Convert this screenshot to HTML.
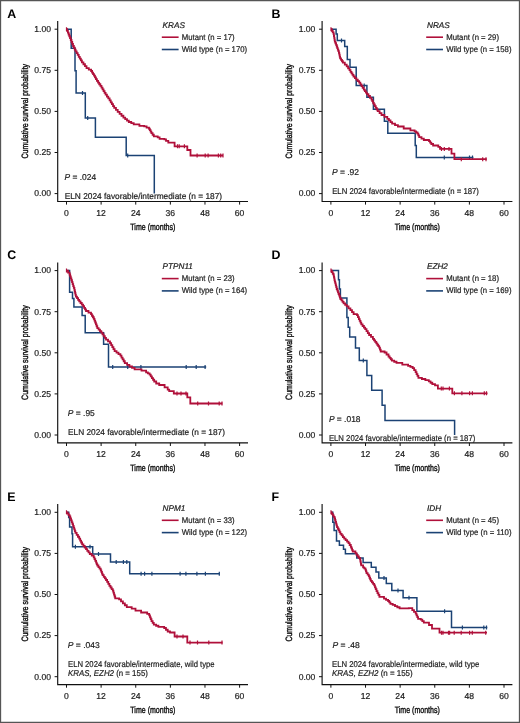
<!DOCTYPE html>
<html><head><meta charset="utf-8"><style>
html,body{margin:0;padding:0;background:#fff;}
svg{display:block;will-change:transform;}
text{font-family:"Liberation Sans",sans-serif;fill:#222;text-rendering:geometricPrecision;}
.lt{font-size:12.4px;font-weight:bold;fill:#000;}
.tk{font-size:8.6px;fill:#222;stroke:#222;stroke-width:0.2px;}
.ttl{font-size:9.2px;fill:#111;stroke:#111;stroke-width:0.4px;}
.lg{font-size:8.2px;fill:#222;stroke:#222;stroke-width:0.2px;}
.an{font-size:8.5px;fill:#222;stroke:#222;stroke-width:0.2px;}
</style></head><body>
<svg width="520" height="723" viewBox="0 0 520 723">
<rect x="0" y="0" width="520" height="723" fill="#fff"/>
<g transform="translate(0,0)">
<text x="7.2" y="17.8" class="lt">A</text>
<path d="M57.7 21V201.5H248" fill="none" stroke="#111" stroke-width="1.15"/>
<path d="M54.6 193.6H57.7 M54.6 152.5H57.7 M54.6 111.4H57.7 M54.6 70.3H57.7 M54.6 29.2H57.7 M66.5 201.5V204.6 M101.12 201.5V204.6 M135.74 201.5V204.6 M170.36 201.5V204.6 M204.98 201.5V204.6 M239.6 201.5V204.6" stroke="#111" stroke-width="1"/>
<text x="51" y="196.45" class="tk" text-anchor="end">0.00</text>
<text x="51" y="155.35" class="tk" text-anchor="end">0.25</text>
<text x="51" y="114.25" class="tk" text-anchor="end">0.50</text>
<text x="51" y="73.15" class="tk" text-anchor="end">0.75</text>
<text x="51" y="32.05" class="tk" text-anchor="end">1.00</text>
<text x="66.5" y="215.6" class="tk" text-anchor="middle">0</text>
<text x="101.12" y="215.6" class="tk" text-anchor="middle">12</text>
<text x="135.74" y="215.6" class="tk" text-anchor="middle">24</text>
<text x="170.36" y="215.6" class="tk" text-anchor="middle">36</text>
<text x="204.98" y="215.6" class="tk" text-anchor="middle">48</text>
<text x="239.6" y="215.6" class="tk" text-anchor="middle">60</text>
<text x="152.85" y="229.7" class="ttl" text-anchor="middle" textLength="45" lengthAdjust="spacingAndGlyphs">Time (months)</text>
<text transform="translate(28,111.2) rotate(-90)" x="0" y="0" class="ttl" text-anchor="middle" textLength="94.6" lengthAdjust="spacingAndGlyphs">Cumulative survival probability</text>
<text x="162.6" y="27.6" class="lg" font-style="italic">KRAS</text>
<path d="M161.8 37.2H178.6" stroke="#b0103a" stroke-width="1.6"/>
<path d="M161.8 49.5H178.6" stroke="#1b4274" stroke-width="1.6"/>
<text x="181.8" y="39.5" class="lg" textLength="52.8" lengthAdjust="spacingAndGlyphs">Mutant (n = 17)</text>
<text x="181.8" y="51.7" class="lg" textLength="65.3" lengthAdjust="spacingAndGlyphs">Wild type (n = 170)</text>
</g>
<text x="64.5" y="179.8" class="an" textLength="31.6" lengthAdjust="spacingAndGlyphs"><tspan font-style="italic">P</tspan> = .024</text>
<text x="64.7" y="199.2" class="an" textLength="157.4" lengthAdjust="spacingAndGlyphs">ELN 2024 favorable/intermediate (n = 187)</text>
<g transform="translate(264.4,0)">
<text x="7.2" y="17.8" class="lt">B</text>
<path d="M57.7 21V201.5H248" fill="none" stroke="#111" stroke-width="1.15"/>
<path d="M54.6 193.6H57.7 M54.6 152.5H57.7 M54.6 111.4H57.7 M54.6 70.3H57.7 M54.6 29.2H57.7 M66.5 201.5V204.6 M101.12 201.5V204.6 M135.74 201.5V204.6 M170.36 201.5V204.6 M204.98 201.5V204.6 M239.6 201.5V204.6" stroke="#111" stroke-width="1"/>
<text x="51" y="196.45" class="tk" text-anchor="end">0.00</text>
<text x="51" y="155.35" class="tk" text-anchor="end">0.25</text>
<text x="51" y="114.25" class="tk" text-anchor="end">0.50</text>
<text x="51" y="73.15" class="tk" text-anchor="end">0.75</text>
<text x="51" y="32.05" class="tk" text-anchor="end">1.00</text>
<text x="66.5" y="215.6" class="tk" text-anchor="middle">0</text>
<text x="101.12" y="215.6" class="tk" text-anchor="middle">12</text>
<text x="135.74" y="215.6" class="tk" text-anchor="middle">24</text>
<text x="170.36" y="215.6" class="tk" text-anchor="middle">36</text>
<text x="204.98" y="215.6" class="tk" text-anchor="middle">48</text>
<text x="239.6" y="215.6" class="tk" text-anchor="middle">60</text>
<text x="152.85" y="229.7" class="ttl" text-anchor="middle" textLength="45" lengthAdjust="spacingAndGlyphs">Time (months)</text>
<text transform="translate(28,111.2) rotate(-90)" x="0" y="0" class="ttl" text-anchor="middle" textLength="94.6" lengthAdjust="spacingAndGlyphs">Cumulative survival probability</text>
<text x="162.6" y="27.6" class="lg" font-style="italic">NRAS</text>
<path d="M161.8 37.2H178.6" stroke="#b0103a" stroke-width="1.6"/>
<path d="M161.8 49.5H178.6" stroke="#1b4274" stroke-width="1.6"/>
<text x="181.8" y="39.5" class="lg" textLength="52.8" lengthAdjust="spacingAndGlyphs">Mutant (n = 29)</text>
<text x="181.8" y="51.7" class="lg" textLength="65.3" lengthAdjust="spacingAndGlyphs">Wild type (n = 158)</text>
</g>
<text x="331.9" y="174.6" class="an" textLength="27.2" lengthAdjust="spacingAndGlyphs"><tspan font-style="italic">P</tspan> = .92</text>
<text x="332.2" y="193.6" class="an" textLength="146.7" lengthAdjust="spacingAndGlyphs">ELN 2024 favorable/intermediate (n = 187)</text>
<g transform="translate(0,241.4)">
<text x="7.2" y="17.8" class="lt">C</text>
<path d="M57.7 21V201.5H248" fill="none" stroke="#111" stroke-width="1.15"/>
<path d="M54.6 193.6H57.7 M54.6 152.5H57.7 M54.6 111.4H57.7 M54.6 70.3H57.7 M54.6 29.2H57.7 M66.5 201.5V204.6 M101.12 201.5V204.6 M135.74 201.5V204.6 M170.36 201.5V204.6 M204.98 201.5V204.6 M239.6 201.5V204.6" stroke="#111" stroke-width="1"/>
<text x="51" y="196.45" class="tk" text-anchor="end">0.00</text>
<text x="51" y="155.35" class="tk" text-anchor="end">0.25</text>
<text x="51" y="114.25" class="tk" text-anchor="end">0.50</text>
<text x="51" y="73.15" class="tk" text-anchor="end">0.75</text>
<text x="51" y="32.05" class="tk" text-anchor="end">1.00</text>
<text x="66.5" y="215.6" class="tk" text-anchor="middle">0</text>
<text x="101.12" y="215.6" class="tk" text-anchor="middle">12</text>
<text x="135.74" y="215.6" class="tk" text-anchor="middle">24</text>
<text x="170.36" y="215.6" class="tk" text-anchor="middle">36</text>
<text x="204.98" y="215.6" class="tk" text-anchor="middle">48</text>
<text x="239.6" y="215.6" class="tk" text-anchor="middle">60</text>
<text x="152.85" y="229.7" class="ttl" text-anchor="middle" textLength="45" lengthAdjust="spacingAndGlyphs">Time (months)</text>
<text transform="translate(28,111.2) rotate(-90)" x="0" y="0" class="ttl" text-anchor="middle" textLength="94.6" lengthAdjust="spacingAndGlyphs">Cumulative survival probability</text>
<text x="162.6" y="27.6" class="lg" font-style="italic">PTPN11</text>
<path d="M161.8 37.2H178.6" stroke="#b0103a" stroke-width="1.6"/>
<path d="M161.8 49.5H178.6" stroke="#1b4274" stroke-width="1.6"/>
<text x="181.8" y="39.5" class="lg" textLength="52.8" lengthAdjust="spacingAndGlyphs">Mutant (n = 23)</text>
<text x="181.8" y="51.7" class="lg" textLength="65.3" lengthAdjust="spacingAndGlyphs">Wild type (n = 164)</text>
</g>
<text x="67.8" y="415.8" class="an" textLength="27" lengthAdjust="spacingAndGlyphs"><tspan font-style="italic">P</tspan> = .95</text>
<text x="68.0" y="434.9" class="an" textLength="156.9" lengthAdjust="spacingAndGlyphs">ELN 2024 favorable/intermediate (n = 187)</text>
<g transform="translate(264.4,241.4)">
<text x="7.2" y="17.8" class="lt">D</text>
<path d="M57.7 21V201.5H248" fill="none" stroke="#111" stroke-width="1.15"/>
<path d="M54.6 193.6H57.7 M54.6 152.5H57.7 M54.6 111.4H57.7 M54.6 70.3H57.7 M54.6 29.2H57.7 M66.5 201.5V204.6 M101.12 201.5V204.6 M135.74 201.5V204.6 M170.36 201.5V204.6 M204.98 201.5V204.6 M239.6 201.5V204.6" stroke="#111" stroke-width="1"/>
<text x="51" y="196.45" class="tk" text-anchor="end">0.00</text>
<text x="51" y="155.35" class="tk" text-anchor="end">0.25</text>
<text x="51" y="114.25" class="tk" text-anchor="end">0.50</text>
<text x="51" y="73.15" class="tk" text-anchor="end">0.75</text>
<text x="51" y="32.05" class="tk" text-anchor="end">1.00</text>
<text x="66.5" y="215.6" class="tk" text-anchor="middle">0</text>
<text x="101.12" y="215.6" class="tk" text-anchor="middle">12</text>
<text x="135.74" y="215.6" class="tk" text-anchor="middle">24</text>
<text x="170.36" y="215.6" class="tk" text-anchor="middle">36</text>
<text x="204.98" y="215.6" class="tk" text-anchor="middle">48</text>
<text x="239.6" y="215.6" class="tk" text-anchor="middle">60</text>
<text x="152.85" y="229.7" class="ttl" text-anchor="middle" textLength="45" lengthAdjust="spacingAndGlyphs">Time (months)</text>
<text transform="translate(28,111.2) rotate(-90)" x="0" y="0" class="ttl" text-anchor="middle" textLength="94.6" lengthAdjust="spacingAndGlyphs">Cumulative survival probability</text>
<text x="162.6" y="27.6" class="lg" font-style="italic">EZH2</text>
<path d="M161.8 37.2H178.6" stroke="#b0103a" stroke-width="1.6"/>
<path d="M161.8 49.5H178.6" stroke="#1b4274" stroke-width="1.6"/>
<text x="181.8" y="39.5" class="lg" textLength="52.8" lengthAdjust="spacingAndGlyphs">Mutant (n = 18)</text>
<text x="181.8" y="51.7" class="lg" textLength="65.3" lengthAdjust="spacingAndGlyphs">Wild type (n = 169)</text>
</g>
<text x="328.9" y="422.3" class="an" textLength="31.6" lengthAdjust="spacingAndGlyphs"><tspan font-style="italic">P</tspan> = .018</text>
<text x="328.9" y="440.8" class="an" textLength="146.4" lengthAdjust="spacingAndGlyphs">ELN 2024 favorable/intermediate (n = 187)</text>
<g transform="translate(0,483.1)">
<text x="7.2" y="17.8" class="lt">E</text>
<path d="M57.7 21V201.5H248" fill="none" stroke="#111" stroke-width="1.15"/>
<path d="M54.6 193.6H57.7 M54.6 152.5H57.7 M54.6 111.4H57.7 M54.6 70.3H57.7 M54.6 29.2H57.7 M66.5 201.5V204.6 M101.12 201.5V204.6 M135.74 201.5V204.6 M170.36 201.5V204.6 M204.98 201.5V204.6 M239.6 201.5V204.6" stroke="#111" stroke-width="1"/>
<text x="51" y="196.45" class="tk" text-anchor="end">0.00</text>
<text x="51" y="155.35" class="tk" text-anchor="end">0.25</text>
<text x="51" y="114.25" class="tk" text-anchor="end">0.50</text>
<text x="51" y="73.15" class="tk" text-anchor="end">0.75</text>
<text x="51" y="32.05" class="tk" text-anchor="end">1.00</text>
<text x="66.5" y="215.6" class="tk" text-anchor="middle">0</text>
<text x="101.12" y="215.6" class="tk" text-anchor="middle">12</text>
<text x="135.74" y="215.6" class="tk" text-anchor="middle">24</text>
<text x="170.36" y="215.6" class="tk" text-anchor="middle">36</text>
<text x="204.98" y="215.6" class="tk" text-anchor="middle">48</text>
<text x="239.6" y="215.6" class="tk" text-anchor="middle">60</text>
<text x="152.85" y="229.7" class="ttl" text-anchor="middle" textLength="45" lengthAdjust="spacingAndGlyphs">Time (months)</text>
<text transform="translate(28,111.2) rotate(-90)" x="0" y="0" class="ttl" text-anchor="middle" textLength="94.6" lengthAdjust="spacingAndGlyphs">Cumulative survival probability</text>
<text x="162.6" y="27.6" class="lg" font-style="italic">NPM1</text>
<path d="M161.8 37.2H178.6" stroke="#b0103a" stroke-width="1.6"/>
<path d="M161.8 49.5H178.6" stroke="#1b4274" stroke-width="1.6"/>
<text x="181.8" y="39.5" class="lg" textLength="52.8" lengthAdjust="spacingAndGlyphs">Mutant (n = 33)</text>
<text x="181.8" y="51.7" class="lg" textLength="65.3" lengthAdjust="spacingAndGlyphs">Wild type (n = 122)</text>
</g>
<text x="67.8" y="647.7" class="an" textLength="32" lengthAdjust="spacingAndGlyphs"><tspan font-style="italic">P</tspan> = .043</text>
<text x="68.0" y="666.9" class="an" textLength="146.6" lengthAdjust="spacingAndGlyphs">ELN 2024 favorable/intermediate, wild type</text>
<text x="68.0" y="676.2" class="an" textLength="79.9" lengthAdjust="spacingAndGlyphs"><tspan font-style="italic">KRAS, EZH2</tspan> (n = 155)</text>
<g transform="translate(264.4,483.1)">
<text x="7.2" y="17.8" class="lt">F</text>
<path d="M57.7 21V201.5H248" fill="none" stroke="#111" stroke-width="1.15"/>
<path d="M54.6 193.6H57.7 M54.6 152.5H57.7 M54.6 111.4H57.7 M54.6 70.3H57.7 M54.6 29.2H57.7 M66.5 201.5V204.6 M101.12 201.5V204.6 M135.74 201.5V204.6 M170.36 201.5V204.6 M204.98 201.5V204.6 M239.6 201.5V204.6" stroke="#111" stroke-width="1"/>
<text x="51" y="196.45" class="tk" text-anchor="end">0.00</text>
<text x="51" y="155.35" class="tk" text-anchor="end">0.25</text>
<text x="51" y="114.25" class="tk" text-anchor="end">0.50</text>
<text x="51" y="73.15" class="tk" text-anchor="end">0.75</text>
<text x="51" y="32.05" class="tk" text-anchor="end">1.00</text>
<text x="66.5" y="215.6" class="tk" text-anchor="middle">0</text>
<text x="101.12" y="215.6" class="tk" text-anchor="middle">12</text>
<text x="135.74" y="215.6" class="tk" text-anchor="middle">24</text>
<text x="170.36" y="215.6" class="tk" text-anchor="middle">36</text>
<text x="204.98" y="215.6" class="tk" text-anchor="middle">48</text>
<text x="239.6" y="215.6" class="tk" text-anchor="middle">60</text>
<text x="152.85" y="229.7" class="ttl" text-anchor="middle" textLength="45" lengthAdjust="spacingAndGlyphs">Time (months)</text>
<text transform="translate(28,111.2) rotate(-90)" x="0" y="0" class="ttl" text-anchor="middle" textLength="94.6" lengthAdjust="spacingAndGlyphs">Cumulative survival probability</text>
<text x="162.6" y="27.6" class="lg" font-style="italic">IDH</text>
<path d="M161.8 37.2H178.6" stroke="#b0103a" stroke-width="1.6"/>
<path d="M161.8 49.5H178.6" stroke="#1b4274" stroke-width="1.6"/>
<text x="181.8" y="39.5" class="lg" textLength="52.8" lengthAdjust="spacingAndGlyphs">Mutant (n = 45)</text>
<text x="181.8" y="51.7" class="lg" textLength="65.3" lengthAdjust="spacingAndGlyphs">Wild type (n = 110)</text>
</g>
<text x="332.4" y="647.7" class="an" textLength="27.3" lengthAdjust="spacingAndGlyphs"><tspan font-style="italic">P</tspan> = .48</text>
<text x="332.0" y="666.5" class="an" textLength="147.4" lengthAdjust="spacingAndGlyphs">ELN 2024 favorable/intermediate, wild type</text>
<text x="332.0" y="676.2" class="an" textLength="80.7" lengthAdjust="spacingAndGlyphs"><tspan font-style="italic">KRAS, EZH2</tspan> (n = 155)</text>

<path d="M66.5 29.2 L71.2 29.2 L71.2 48.3 L75 48.3 L75 70.8 L76.1 70.8 L76.1 93 L85.3 93 L85.3 117.9 L95.4 117.9 L95.4 137.2 L126.2 137.2 L126.2 155.5 L154.3 155.5 L154.3 193.6" fill="none" stroke="#1b4274" stroke-width="1.5" stroke-linejoin="miter"/>
<path d="M82.5 91v4 M87.7 115.9v4 M127.7 153.5v4" stroke="#1b4274" stroke-width="1.2"/>
<path d="M66.5 29.2 L67.2 29.2 L67.2 30.96 L67.9 30.96 L67.9 32.72 L68.6 32.72 L68.6 34.48 L69.3 34.48 L69.3 36.24 L70 36.24 L70 38 L70.75 38 L70.75 40 L71.5 40 L71.5 42 L72.25 42 L72.25 44 L73 44 L73 46 L73.87 46 L73.87 47.77 L74.73 47.77 L74.73 49.53 L75.6 49.53 L75.6 51.3 L76.65 51.3 L76.65 53.13 L77.7 53.13 L77.7 54.97 L78.75 54.97 L78.75 56.8 L79.8 56.8 L79.8 58.63 L80.85 58.63 L80.85 60.47 L81.9 60.47 L81.9 62.3 L83.43 62.3 L83.43 64.23 L84.97 64.23 L84.97 66.17 L86.5 66.17 L86.5 68.1 L88.8 68.1 L88.8 69.55 L91.1 69.55 L91.1 71 L92.07 71 L92.07 72.53 L93.03 72.53 L93.03 74.07 L94 74.07 L94 75.6 L94.97 75.6 L94.97 77.33 L95.93 77.33 L95.93 79.07 L96.9 79.07 L96.9 80.8 L98.05 80.8 L98.05 82.53 L99.2 82.53 L99.2 84.25 L100.35 84.25 L100.35 85.97 L101.5 85.97 L101.5 87.7 L102.53 87.7 L102.53 89.42 L103.55 89.42 L103.55 91.15 L104.57 91.15 L104.57 92.88 L105.6 92.88 L105.6 94.6 L106.93 94.6 L106.93 96.53 L108.27 96.53 L108.27 98.47 L109.6 98.47 L109.6 100.4 L110.75 100.4 L110.75 102.28 L111.9 102.28 L111.9 104.15 L113.05 104.15 L113.05 106.03 L114.2 106.03 L114.2 107.9 L115.95 107.9 L115.95 109.9 L117.7 109.9 L117.7 111.9 L119.6 111.9 L119.6 113.83 L121.5 113.83 L121.5 115.77 L123.4 115.77 L123.4 117.7 L125.2 117.7 L125.2 119.13 L127 119.13 L127 120.57 L128.8 120.57 L128.8 122 L131.25 122 L131.25 123.2 L133.7 123.2 L133.7 124.4 L139.4 124.4 L139.4 125.9 L144.2 125.9 L144.2 126.3 L146.6 126.3 L146.6 127.53 L149 127.53 L149 128.75 L149.8 128.75 L149.8 130.2 L150.6 130.2 L150.6 131.65 L151.4 131.65 L151.4 133.1 L152.6 133.1 L152.6 134.75 L153.8 134.75 L153.8 136.4 L157.7 136.4 L157.7 137.4 L159.6 137.4 L159.6 138.8 L164.4 138.8 L164.4 139.3 L166 139.3 L166 140.8 L168.3 140.8 L168.3 142.7 L174.6 142.7 L174.6 143.6 L174.6 146.3 L187.3 146.3 L187.3 150 L190.5 150 L190.5 155.5 L223 155.5" fill="none" stroke="#b0103a" stroke-width="1.8" stroke-linejoin="miter"/>
<path d="M66.5 27.2v4 M177.5 144.3v4 M179.2 144.3v4 M184.4 144.3v4 M197.1 153.5v4 M205.2 153.5v4 M208.1 153.5v4 M218.4 153.5v4 M220.7 153.5v4 M223 153.5v4" stroke="#b0103a" stroke-width="1.2"/>
<path d="M331 29.2 L336.1 29.2 L336.1 34 L337.3 34 L337.3 40.4 L344.7 40.4 L344.7 46.6 L347.3 46.6 L347.3 59.4 L350 59.4 L350 67.3 L356.2 67.3 L356.2 85.4 L366.9 85.4 L366.9 97.2 L373.4 97.2 L373.4 109.2 L384.4 109.2 L384.4 121.3 L387.8 121.3 L387.8 133.3 L415.2 133.3 L415.2 145.6 L416.3 145.6 L416.3 157.4 L473.4 157.4" fill="none" stroke="#1b4274" stroke-width="1.5" stroke-linejoin="miter"/>
<path d="M341.5 38.4v4 M364.2 83.4v4 M444.3 155.4v4 M469.5 155.4v4 M472.5 155.4v4" stroke="#1b4274" stroke-width="1.2"/>
<path d="M331 29.2 L331.87 29.2 L331.87 30.83 L332.73 30.83 L332.73 32.47 L333.6 32.47 L333.6 34.1 L333.9 34.1 L333.9 35.98 L334.2 35.98 L334.2 37.85 L334.5 37.85 L334.5 39.73 L334.8 39.73 L334.8 41.6 L335.43 41.6 L335.43 43.23 L336.07 43.23 L336.07 44.87 L336.7 44.87 L336.7 46.5 L337.25 46.5 L337.25 48.08 L337.8 48.08 L337.8 49.65 L338.35 49.65 L338.35 51.22 L338.9 51.22 L338.9 52.8 L339.3 52.8 L339.3 54.67 L339.7 54.67 L339.7 56.53 L340.1 56.53 L340.1 58.4 L341.03 58.4 L341.03 59.83 L341.97 59.83 L341.97 61.27 L342.9 61.27 L342.9 62.7 L344.8 62.7 L344.8 64.55 L346.7 64.55 L346.7 66.4 L348.1 66.4 L348.1 68.3 L349.5 68.3 L349.5 70.2 L350.5 70.2 L350.5 71.78 L351.5 71.78 L351.5 73.35 L352.5 73.35 L352.5 74.92 L353.5 74.92 L353.5 76.5 L354.93 76.5 L354.93 78.05 L356.35 78.05 L356.35 79.6 L357.77 79.6 L357.77 81.15 L359.2 81.15 L359.2 82.7 L360.35 82.7 L360.35 84.42 L361.5 84.42 L361.5 86.15 L362.65 86.15 L362.65 87.88 L363.8 87.88 L363.8 89.6 L364.83 89.6 L364.83 91.13 L365.87 91.13 L365.87 92.67 L366.9 92.67 L366.9 94.2 L368.43 94.2 L368.43 96 L369.97 96 L369.97 97.8 L371.5 97.8 L371.5 99.6 L372.27 99.6 L372.27 101.2 L373.03 101.2 L373.03 102.8 L373.8 102.8 L373.8 104.4 L374.77 104.4 L374.77 106.1 L375.75 106.1 L375.75 107.8 L376.73 107.8 L376.73 109.5 L377.7 109.5 L377.7 111.2 L379.6 111.2 L379.6 113.1 L381.5 113.1 L381.5 115 L384.4 115 L384.4 116.9 L387.3 116.9 L387.3 118.8 L388.9 118.8 L388.9 120.43 L390.5 120.43 L390.5 122.07 L392.1 122.07 L392.1 123.7 L395 123.7 L395 125.1 L397.9 125.1 L397.9 126.5 L403.7 126.5 L403.7 128.5 L410.4 128.5 L410.4 130.4 L414.6 130.4 L414.6 131.3 L416.05 131.3 L416.05 132.5 L417.5 132.5 L417.5 133.7 L418.35 133.7 L418.35 135.4 L419.2 135.4 L419.2 137.1 L421.5 137.1 L421.5 138.55 L423.8 138.55 L423.8 140 L429 140 L429 141.1 L430.15 141.1 L430.15 142.55 L431.3 142.55 L431.3 144 L433.1 144 L433.1 145.5 L438.3 145.5 L438.3 146.9 L440 146.9 L440 148.9 L451.5 148.9 L451.5 153.6 L454.4 153.6 L454.4 159.2 L486.7 159.2" fill="none" stroke="#b0103a" stroke-width="1.8" stroke-linejoin="miter"/>
<path d="M331 27.2v4 M441.5 146.9v4 M444.3 146.9v4 M449 146.9v4 M461.3 157.2v4 M482.7 157.2v4 M486 157.2v4" stroke="#b0103a" stroke-width="1.2"/>
<path d="M66.5 270.6 L69.6 270.6 L69.6 292.3 L72.5 292.3 L72.5 298.5 L73.9 298.5 L73.9 307 L82.1 307 L82.1 315.6 L85.2 315.6 L85.2 332.7 L103.6 332.7 L103.6 344.2 L108.5 344.2 L108.5 367.1 L206.2 367.1" fill="none" stroke="#1b4274" stroke-width="1.5" stroke-linejoin="miter"/>
<path d="M112.7 365.1v4 M127.7 365.1v4 M140.9 365.1v4 M186.2 365.1v4 M196.2 365.1v4 M205.1 365.1v4" stroke="#1b4274" stroke-width="1.2"/>
<path d="M66.5 270.6 L68.05 270.6 L68.05 272.55 L69.6 272.55 L69.6 274.5 L70.2 274.5 L70.2 276.43 L70.8 276.43 L70.8 278.35 L71.4 278.35 L71.4 280.27 L72 280.27 L72 282.2 L72.6 282.2 L72.6 284.12 L73.2 284.12 L73.2 286.05 L73.8 286.05 L73.8 287.97 L74.4 287.97 L74.4 289.9 L74.78 289.9 L74.78 291.57 L75.15 291.57 L75.15 293.25 L75.53 293.25 L75.53 294.93 L75.9 294.93 L75.9 296.6 L77 296.6 L77 298.2 L78.1 298.2 L78.1 299.8 L79.2 299.8 L79.2 301.4 L80.5 301.4 L80.5 303 L81.8 303 L81.8 304.6 L83.1 304.6 L83.1 306.2 L84.07 306.2 L84.07 307.8 L85.03 307.8 L85.03 309.4 L86 309.4 L86 311 L88.5 311 L88.5 312.6 L91 312.6 L91 314.2 L91.93 314.2 L91.93 315.73 L92.87 315.73 L92.87 317.27 L93.8 317.27 L93.8 318.8 L94.5 318.8 L94.5 320.66 L95.2 320.66 L95.2 322.52 L95.9 322.52 L95.9 324.38 L96.6 324.38 L96.6 326.24 L97.3 326.24 L97.3 328.1 L98.63 328.1 L98.63 329.63 L99.97 329.63 L99.97 331.17 L101.3 331.17 L101.3 332.7 L102.47 332.7 L102.47 334.43 L103.65 334.43 L103.65 336.15 L104.83 336.15 L104.83 337.88 L106 337.88 L106 339.6 L108 339.6 L108 341.35 L110 341.35 L110 343.1 L111.15 343.1 L111.15 345.1 L112.3 345.1 L112.3 347.1 L113.45 347.1 L113.45 349.1 L114.6 349.1 L114.6 351.1 L116.53 351.1 L116.53 352.63 L118.47 352.63 L118.47 354.17 L120.4 354.17 L120.4 355.7 L121.5 355.7 L121.5 357.55 L122.6 357.55 L122.6 359.4 L123.7 359.4 L123.7 361.25 L124.8 361.25 L124.8 363.1 L127.1 363.1 L127.1 364.8 L129.4 364.8 L129.4 366.5 L132 366.5 L132 367.95 L134.6 367.95 L134.6 369.4 L141.5 369.4 L141.5 370.6 L146.1 370.6 L146.1 372.3 L147.85 372.3 L147.85 373.45 L149.6 373.45 L149.6 374.6 L150.75 374.6 L150.75 376.33 L151.9 376.33 L151.9 378.05 L153.05 378.05 L153.05 379.77 L154.2 379.77 L154.2 381.5 L156.2 381.5 L156.2 383.5 L159.2 383.5 L159.2 385 L164.6 385 L164.6 387.3 L167.7 387.3 L167.7 389.6 L169.2 389.6 L169.2 391.2 L173.8 391.2 L173.8 393.5 L187.3 393.5 L187.3 397.3 L190.3 397.3 L190.3 403.5 L222.3 403.5" fill="none" stroke="#b0103a" stroke-width="1.8" stroke-linejoin="miter"/>
<path d="M66.5 268.6v4 M177 391.5v4 M181 391.5v4 M186 391.5v4 M197.7 401.5v4 M208.5 401.5v4 M219.2 401.5v4 M222 401.5v4" stroke="#b0103a" stroke-width="1.2"/>
<path d="M331 270.6 L338.5 270.6 L338.5 279.7 L339.4 279.7 L339.4 288.9 L340.4 288.9 L340.4 298 L346.9 298 L346.9 317.5 L348.2 317.5 L348.2 327.3 L349.7 327.3 L349.7 337 L355.5 337 L355.5 348.1 L359.3 348.1 L359.3 360.6 L366.9 360.6 L366.9 375.5 L371.7 375.5 L371.7 390.2 L382.1 390.2 L382.1 405.2 L385 405.2 L385 420.5 L454.6 420.5 L454.6 435" fill="none" stroke="#1b4274" stroke-width="1.5" stroke-linejoin="miter"/>
<path d="M363.3 358.6v4" stroke="#1b4274" stroke-width="1.2"/>
<path d="M331 270.6 L331.87 270.6 L331.87 272.17 L332.73 272.17 L332.73 273.73 L333.6 273.73 L333.6 275.3 L333.9 275.3 L333.9 276.88 L334.2 276.88 L334.2 278.45 L334.5 278.45 L334.5 280.03 L334.8 280.03 L334.8 281.6 L335.27 281.6 L335.27 283.45 L335.75 283.45 L335.75 285.3 L336.23 285.3 L336.23 287.15 L336.7 287.15 L336.7 289 L337.33 289 L337.33 290.67 L337.97 290.67 L337.97 292.33 L338.6 292.33 L338.6 294 L339.2 294 L339.2 295.67 L339.8 295.67 L339.8 297.33 L340.4 297.33 L340.4 299 L341.47 299 L341.47 300.43 L342.53 300.43 L342.53 301.87 L343.6 301.87 L343.6 303.3 L345.15 303.3 L345.15 304.85 L346.7 304.85 L346.7 306.4 L348.55 306.4 L348.55 308.3 L350.4 308.3 L350.4 310.2 L352 310.2 L352 312.2 L353.6 312.2 L353.6 314.2 L357 314.2 L357 315.2 L357.95 315.2 L357.95 317.15 L358.9 317.15 L358.9 319.1 L359.7 319.1 L359.7 320.87 L360.5 320.87 L360.5 322.63 L361.3 322.63 L361.3 324.4 L362.6 324.4 L362.6 326 L363.9 326 L363.9 327.6 L365.2 327.6 L365.2 329.2 L366.5 329.2 L366.5 331.13 L367.8 331.13 L367.8 333.07 L369.1 333.07 L369.1 335 L371 335 L371 336.95 L372.9 336.95 L372.9 338.9 L374.03 338.9 L374.03 340.37 L375.17 340.37 L375.17 341.83 L376.3 341.83 L376.3 343.3 L377.27 343.3 L377.27 344.73 L378.23 344.73 L378.23 346.17 L379.2 346.17 L379.2 347.6 L379.95 347.6 L379.95 349.55 L380.7 349.55 L380.7 351.5 L384.6 351.5 L384.6 352.5 L386.55 352.5 L386.55 354.5 L388.5 354.5 L388.5 356.5 L389.63 356.5 L389.63 357.87 L390.77 357.87 L390.77 359.23 L391.9 359.23 L391.9 360.6 L394.2 360.6 L394.2 361.75 L396.5 361.75 L396.5 362.9 L402.3 362.9 L402.3 364.6 L408.1 364.6 L408.1 365.8 L410.4 365.8 L410.4 366.95 L412.7 366.95 L412.7 368.1 L414.15 368.1 L414.15 370.1 L415.6 370.1 L415.6 372.1 L416.53 372.1 L416.53 374.03 L417.47 374.03 L417.47 375.97 L418.4 375.97 L418.4 377.9 L421.9 377.9 L421.9 379 L425.35 379 L425.35 380.15 L428.8 380.15 L428.8 381.3 L430.55 381.3 L430.55 382.75 L432.3 382.75 L432.3 384.2 L435 384.2 L435 385.4 L437.9 385.4 L437.9 388.6 L452.3 388.6 L452.3 393.3 L487.5 393.3" fill="none" stroke="#b0103a" stroke-width="1.8" stroke-linejoin="miter"/>
<path d="M331 268.6v4 M441.3 386.6v4 M443 386.6v4 M449.4 386.6v4 M454.4 391.3v4 M461.9 391.3v4 M469.6 391.3v4 M472.4 391.3v4 M484.3 391.3v4 M486.5 391.3v4" stroke="#b0103a" stroke-width="1.2"/>
<path d="M66.5 512.3 L68.7 512.3 L68.7 517.5 L69.6 517.5 L69.6 527.1 L72 527.1 L72 533.8 L72.6 533.8 L72.6 546.8 L92.7 546.8 L92.7 553.9 L110.5 553.9 L110.5 562.1 L129.7 562.1 L129.7 573.7 L219.6 573.7" fill="none" stroke="#1b4274" stroke-width="1.5" stroke-linejoin="miter"/>
<path d="M75.4 544.8v4 M90 544.8v4 M98.5 551.9v4 M116.2 560.1v4 M123.4 560.1v4 M126.8 560.1v4 M141.1 571.7v4 M144.6 571.7v4 M151.9 571.7v4 M180.1 571.7v4 M185.9 571.7v4 M196.9 571.7v4 M205.4 571.7v4 M219.3 571.7v4" stroke="#1b4274" stroke-width="1.2"/>
<path d="M66.5 512.3 L67.53 512.3 L67.53 513.7 L68.57 513.7 L68.57 515.1 L69.6 515.1 L69.6 516.5 L70.32 516.5 L70.32 518.42 L71.05 518.42 L71.05 520.35 L71.78 520.35 L71.78 522.28 L72.5 522.28 L72.5 524.2 L73.08 524.2 L73.08 525.94 L73.66 525.94 L73.66 527.68 L74.24 527.68 L74.24 529.42 L74.82 529.42 L74.82 531.16 L75.4 531.16 L75.4 532.9 L76.67 532.9 L76.67 534.83 L77.93 534.83 L77.93 536.77 L79.2 536.77 L79.2 538.7 L80.17 538.7 L80.17 540.6 L81.13 540.6 L81.13 542.5 L82.1 542.5 L82.1 544.4 L83.4 544.4 L83.4 546 L84.7 546 L84.7 547.6 L86 547.6 L86 549.2 L87.27 549.2 L87.27 550.8 L88.53 550.8 L88.53 552.4 L89.8 552.4 L89.8 554 L91.75 554 L91.75 555.7 L93.7 555.7 L93.7 557.4 L94.5 557.4 L94.5 559.17 L95.3 559.17 L95.3 560.93 L96.1 560.93 L96.1 562.7 L96.7 562.7 L96.7 564.1 L97.3 564.1 L97.3 565.5 L98.43 565.5 L98.43 567.1 L99.57 567.1 L99.57 568.7 L100.7 568.7 L100.7 570.3 L101.33 570.3 L101.33 571.93 L101.97 571.93 L101.97 573.57 L102.6 573.57 L102.6 575.2 L103.73 575.2 L103.73 576.8 L104.87 576.8 L104.87 578.4 L106 578.4 L106 580 L107.13 580 L107.13 581.97 L108.27 581.97 L108.27 583.93 L109.4 583.93 L109.4 585.9 L110.53 585.9 L110.53 587.5 L111.67 587.5 L111.67 589.1 L112.8 589.1 L112.8 590.7 L113.4 590.7 L113.4 592.62 L114 592.62 L114 594.55 L114.6 594.55 L114.6 596.48 L115.2 596.48 L115.2 598.4 L119.1 598.4 L119.1 599.4 L121 599.4 L121 601.35 L122.9 601.35 L122.9 603.3 L124.85 603.3 L124.85 605.25 L126.8 605.25 L126.8 607.2 L131.7 607.2 L131.7 608.6 L135.5 608.6 L135.5 610.6 L141.1 610.6 L141.1 612.5 L145.2 612.5 L145.2 612.5 L147.2 612.5 L147.2 613.95 L149.2 613.95 L149.2 615.4 L149.97 615.4 L149.97 617.3 L150.73 617.3 L150.73 619.2 L151.5 619.2 L151.5 621.1 L152.65 621.1 L152.65 622.85 L153.8 622.85 L153.8 624.6 L156.1 624.6 L156.1 625.75 L158.4 625.75 L158.4 626.9 L164.2 626.9 L164.2 628 L165.95 628 L165.95 629.75 L167.7 629.75 L167.7 631.5 L170 631.5 L170 632.5 L174.6 632.5 L174.6 636.5 L187.3 636.5 L187.3 642.6 L222.5 642.6" fill="none" stroke="#b0103a" stroke-width="1.8" stroke-linejoin="miter"/>
<path d="M66.5 510.3v4 M177 634.5v4 M183 634.5v4 M190 640.6v4 M197.5 640.6v4 M208.8 640.6v4 M222 640.6v4" stroke="#b0103a" stroke-width="1.2"/>
<path d="M331 512.3 L332.8 512.3 L332.8 522.3 L334.1 522.3 L334.1 530.5 L336.5 530.5 L336.5 541 L339.4 541 L339.4 545.2 L343.5 545.2 L343.5 549.2 L345.4 549.2 L345.4 553.7 L356.8 553.7 L356.8 557.9 L363.1 557.9 L363.1 562.5 L371.3 562.5 L371.3 567.2 L376 567.2 L376 572.1 L378.8 572.1 L378.8 577.9 L386.3 577.9 L386.3 583.6 L391.8 583.6 L391.8 590.6 L403.1 590.6 L403.1 597.7 L416.9 597.7 L416.9 611.2 L451.5 611.2 L451.5 627.6 L487.3 627.6" fill="none" stroke="#1b4274" stroke-width="1.5" stroke-linejoin="miter"/>
<path d="M384 575.9v4 M398 588.6v4 M409 595.7v4 M444.6 609.2v4 M462.4 625.6v4 M483.8 625.6v4 M486.5 625.6v4" stroke="#1b4274" stroke-width="1.2"/>
<path d="M331 512.3 L331.9 512.3 L331.9 513.85 L332.8 513.85 L332.8 515.4 L333.7 515.4 L333.7 516.95 L334.6 516.95 L334.6 518.5 L335.08 518.5 L335.08 520.22 L335.56 520.22 L335.56 521.94 L336.04 521.94 L336.04 523.66 L336.52 523.66 L336.52 525.38 L337 525.38 L337 527.1 L337.85 527.1 L337.85 528.77 L338.7 528.77 L338.7 530.45 L339.55 530.45 L339.55 532.12 L340.4 532.12 L340.4 533.8 L341.67 533.8 L341.67 535.43 L342.93 535.43 L342.93 537.07 L344.2 537.07 L344.2 538.7 L345.63 538.7 L345.63 540.17 L347.07 540.17 L347.07 541.63 L348.5 541.63 L348.5 543.1 L349.65 543.1 L349.65 545 L350.8 545 L350.8 546.9 L351.43 546.9 L351.43 548.43 L352.07 548.43 L352.07 549.97 L352.7 549.97 L352.7 551.5 L355.4 551.5 L355.4 553.1 L356.55 553.1 L356.55 554.8 L357.7 554.8 L357.7 556.5 L358.85 556.5 L358.85 557.85 L360 557.85 L360 559.2 L360.3 559.2 L360.3 560.75 L360.6 560.75 L360.6 562.3 L360.9 562.3 L360.9 563.85 L361.2 563.85 L361.2 565.4 L363.1 565.4 L363.1 567.3 L364.25 567.3 L364.25 568.45 L365.4 568.45 L365.4 569.6 L365.95 569.6 L365.95 571.35 L366.5 571.35 L366.5 573.1 L367.65 573.1 L367.65 574.65 L368.8 574.65 L368.8 576.2 L369.47 576.2 L369.47 577.73 L370.13 577.73 L370.13 579.27 L370.8 579.27 L370.8 580.8 L371.93 580.8 L371.93 582.33 L373.07 582.33 L373.07 583.87 L374.2 583.87 L374.2 585.4 L374.97 585.4 L374.97 587.3 L375.73 587.3 L375.73 589.2 L376.5 589.2 L376.5 591.1 L377.47 591.1 L377.47 593.03 L378.43 593.03 L378.43 594.97 L379.4 594.97 L379.4 596.9 L384 596.9 L384 598.6 L386.05 598.6 L386.05 599.8 L388.1 599.8 L388.1 601 L389.25 601 L389.25 602.4 L390.4 602.4 L390.4 603.8 L392.7 603.8 L392.7 604.95 L395 604.95 L395 606.1 L397.3 606.1 L397.3 607.25 L399.6 607.25 L399.6 608.4 L408.8 608.4 L408.8 608.2 L412.3 608.2 L412.3 610.2 L414 610.2 L414 611.9 L415.7 611.9 L415.7 613.6 L416.5 613.6 L416.5 615.33 L417.3 615.33 L417.3 617.07 L418.1 617.07 L418.1 618.8 L420.8 618.8 L420.8 619.6 L422.3 619.6 L422.3 621.15 L423.8 621.15 L423.8 622.7 L429 622.7 L429 625 L432 625 L432 628.6 L439.5 628.6 L439.5 632.7 L487 632.7" fill="none" stroke="#b0103a" stroke-width="1.8" stroke-linejoin="miter"/>
<path d="M331 510.3v4 M441.5 630.7v4 M443 630.7v4 M448.5 630.7v4 M449.6 630.7v4 M454.2 630.7v4 M461.2 630.7v4 M469.6 630.7v4 M472.3 630.7v4 M485.7 630.7v4" stroke="#b0103a" stroke-width="1.2"/>

<path d="M0 0H520V1.15H0Z M0 0H1.15V723H0Z M518.85 0H520V723H518.85Z M0 721.7H520V723H0Z" fill="#555"/>
</svg>
</body></html>
